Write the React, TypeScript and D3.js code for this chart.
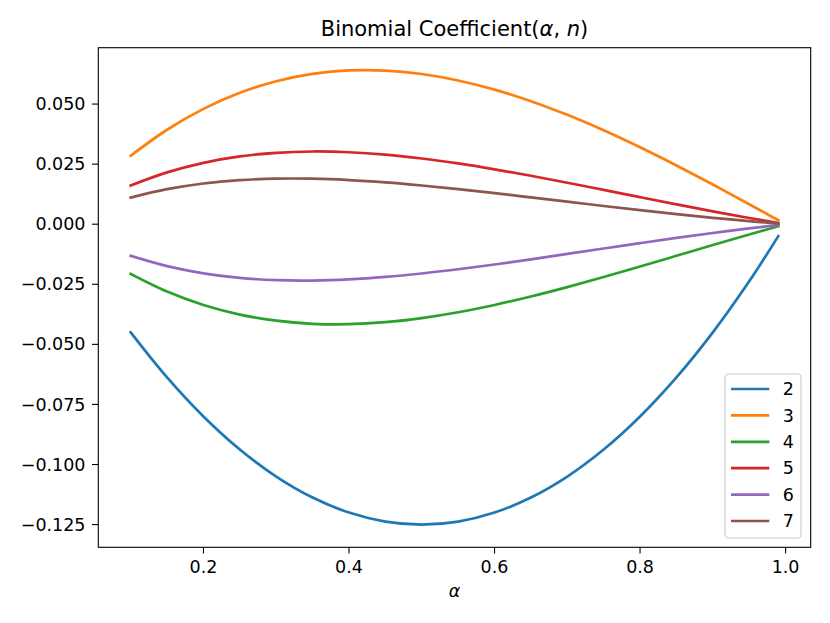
import * as d3 from 'd3';

const WIDTH = 830;
const HEIGHT = 623;
const MARGIN = { top: 47.7, right: 830 - 810.7, bottom: 623 - 547.3, left: 98.3 };

// alpha sample points
const alphas = [0.1, 0.15, 0.2, 0.25, 0.3, 0.35, 0.4, 0.45, 0.5, 0.55, 0.6, 0.65, 0.7, 0.75, 0.8, 0.85, 0.9, 0.95, 0.99];

// values read per order n
const n2 = [-0.045, -0.06375, -0.08, -0.09375, -0.105, -0.11375, -0.12, -0.12375, -0.125, -0.12375, -0.12, -0.11375, -0.105, -0.09375, -0.08, -0.06375, -0.045, -0.02375, -0.00495];
const n3 = [0.0285, 0.03931, 0.048, 0.05469, 0.0595, 0.06256, 0.064, 0.06394, 0.0625, 0.05981, 0.056, 0.05119, 0.0455, 0.03906, 0.032, 0.02444, 0.0165, 0.00831, 0.00167];
const n4 = [-0.02066, -0.02801, -0.0336, -0.0376, -0.04016, -0.04145, -0.0416, -0.04076, -0.03906, -0.03664, -0.0336, -0.03007, -0.02616, -0.02197, -0.0176, -0.01314, -0.00866, -0.00426, -0.00084];
const n5 = [0.01612, 0.02157, 0.02554, 0.0282, 0.02972, 0.03026, 0.02995, 0.02894, 0.02734, 0.02528, 0.02285, 0.02015, 0.01727, 0.01428, 0.01126, 0.00828, 0.00537, 0.0026, 0.0005];
const n6 = [-0.01316, -0.01743, -0.02043, -0.02232, -0.02328, -0.02345, -0.02296, -0.02195, -0.02051, -0.01875, -0.01676, -0.01461, -0.01237, -0.01012, -0.00788, -0.00572, -0.00367, -0.00175, -0.00034];
const n7 = [0.01109, 0.01457, 0.01693, 0.01834, 0.01896, 0.01893, 0.01837, 0.0174, 0.01611, 0.0146, 0.01293, 0.01116, 0.00937, 0.00759, 0.00586, 0.00421, 0.00267, 0.00127, 0.00024];

const seriesNames = ['2', '3', '4', '5', '6', '7'];
const seriesValues = [n2, n3, n4, n5, n6, n7];
const colors = ['#1f77b4', '#ff7f0e', '#2ca02c', '#d62728', '#9467bd', '#8c564b'];

const xTicks = [0.2, 0.4, 0.6, 0.8, 1.0];
const yTicks = [-0.125, -0.1, -0.075, -0.05, -0.025, 0, 0.025, 0.05];

const FONT = '"DejaVu Sans", sans-serif';

export default function App() {
  const boundsWidth = WIDTH - MARGIN.left - MARGIN.right;
  const boundsHeight = HEIGHT - MARGIN.top - MARGIN.bottom;

  // matplotlib style 5% padding
  const [xMin, xMax] = d3.extent(alphas) as [number, number];
  const xPad = (xMax - xMin) * 0.05;
  const xScale = d3.scaleLinear().domain([xMin - xPad, xMax + xPad]).range([0, boundsWidth]);

  const allVals = seriesValues.flat();
  const [yMin, yMax] = d3.extent(allVals) as [number, number];
  const yPad = (yMax - yMin) * 0.05;
  const yScale = d3.scaleLinear().domain([yMin - yPad, yMax + yPad]).range([boundsHeight, 0]);

  const lineBuilder = d3
    .line<number>()
    .x((_, i) => xScale(alphas[i]))
    .y((d) => yScale(d))
    .curve(d3.curveCatmullRom.alpha(0.5));

  const fmtY = d3.format('.3f');
  const fmtX = d3.format('.1f');

  const legend = { x: 725 - MARGIN.left, y: 374 - MARGIN.top, w: 76, h: 164 };

  return (
    <svg
      width={WIDTH}
      height={HEIGHT}
      style={{ position: 'absolute', left: 0, top: 0, background: '#fff' }}
      fontFamily={FONT}
    >
      <rect width={WIDTH} height={HEIGHT} fill="#fff" />
      <text x={MARGIN.left + boundsWidth / 2} y={36} textAnchor="middle" fontSize={21}>
        Binomial Coefficient(<tspan fontStyle="italic">α</tspan>, <tspan fontStyle="italic">n</tspan>)
      </text>
      <g transform={`translate(${MARGIN.left},${MARGIN.top})`}>
        {seriesValues.map((vals, i) => (
          <path
            key={seriesNames[i]}
            d={lineBuilder(vals) || ''}
            fill="none"
            stroke={colors[i]}
            strokeWidth={2.7}
            strokeLinecap="square"
          />
        ))}
        <rect width={boundsWidth} height={boundsHeight} fill="none" stroke="#000" strokeWidth={1.1} />
        {xTicks.map((t) => (
          <g key={t} transform={`translate(${xScale(t)},${boundsHeight})`}>
            <line y2={6.3} stroke="#000" strokeWidth={1.1} />
            <text y={26} textAnchor="middle" fontSize={17.5}>
              {fmtX(t)}
            </text>
          </g>
        ))}
        {yTicks.map((t) => (
          <g key={t} transform={`translate(0,${yScale(t)})`}>
            <line x2={-6.3} stroke="#000" strokeWidth={1.1} />
            <text x={-12.8} dy="0.35em" textAnchor="end" fontSize={17.5}>
              {fmtY(t)}
            </text>
          </g>
        ))}
        <text
          x={boundsWidth / 2}
          y={596.7 - MARGIN.top}
          textAnchor="middle"
          fontSize={17.5}
          fontStyle="italic"
        >
          α
        </text>
        <g transform={`translate(${legend.x},${legend.y})`}>
          <rect
            width={legend.w}
            height={legend.h}
            rx={3.5}
            fill="#fff"
            fillOpacity={0.8}
            stroke="#cccccc"
            strokeWidth={1.1}
          />
          {seriesNames.map((name, i) => (
            <g key={name} transform={`translate(0,${15 + i * 26.4})`}>
              <line x1={6} x2={44.3} stroke={colors[i]} strokeWidth={2.7} />
              <text x={57.7} dy="0.35em" fontSize={17.5}>
                {name}
              </text>
            </g>
          ))}
        </g>
      </g>
    </svg>
  );
}
